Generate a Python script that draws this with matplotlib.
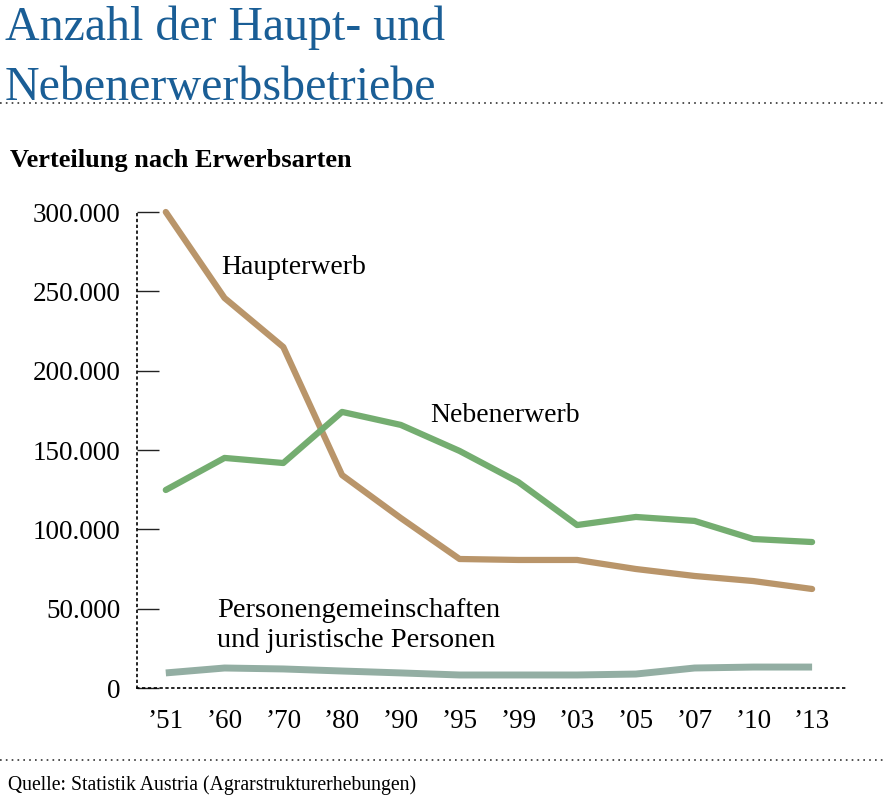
import matplotlib.pyplot as plt
from matplotlib.ticker import FuncFormatter
from matplotlib.lines import Line2D

# Data
years = ["’51", "’60", "’70", "’80", "’90", "’95", "’99", "’03", "’05", "’07", "’10", "’13"]
haupterwerb = [300000, 245800, 214900, 134200, 107100, 81300, 80700, 80700, 75000, 70600, 67400, 62400]
nebenerwerb = [124800, 145000, 141800, 174000, 165800, 149400, 129800, 102700, 107800, 105300, 93900, 92000]
personen = [9500, 12600, 12000, 10700, 9500, 8200, 8200, 8200, 8800, 12600, 13200, 13200]
y_ticks = [0, 50000, 100000, 150000, 200000, 250000, 300000]

plt.rcParams['font.family'] = ['Liberation Serif', 'DejaVu Serif']

fig = plt.figure(figsize=(8.83, 8.0), dpi=100)
ax = fig.add_axes([137/883, 1 - 688/800, (845 - 137)/883, (688 - 212)/800])

x = list(range(len(years)))
ax.plot(x, haupterwerb, color="#b9956a", lw=4.5, solid_capstyle='round', clip_on=False)
ax.plot(x, nebenerwerb, color="#74ad70", lw=4.5, solid_capstyle='round', clip_on=False)
ax.plot(x, personen, color="#93aea3", lw=5, solid_capstyle='butt', clip_on=False)

ax.set_xlim(-0.49, 11.56)
ax.set_ylim(0, 300000)

for s in ['top', 'right']:
    ax.spines[s].set_visible(False)
ax.spines['left'].set_linestyle((0, (1, 2.5)))
ax.spines['bottom'].set_linestyle((0, (1, 2.5)))
ax.spines['left'].set_linewidth(1.2)
ax.spines['bottom'].set_linewidth(1.2)

ax.set_yticks(y_ticks)
ax.yaxis.set_major_formatter(FuncFormatter(lambda v, p: "0" if v == 0 else "{:,.0f}".format(v).replace(",", ".")))
ax.tick_params(axis='y', direction='in', length=16, width=1, labelsize=19.5, pad=12, color="#222222")
ax.set_xticks(x)
ax.set_xticklabels(years)
ax.tick_params(axis='x', length=0, labelsize=19.5, pad=15)

# Series labels
ax.text(0.95, 265300, "Haupterwerb", fontsize=20, va='center')
ax.text(4.5, 172000, "Nebenerwerb", fontsize=20, va='center')
ax.text(0.87, 39500, "Personengemeinschaften\nund juristische Personen", fontsize=20.5,
        va='center', linespacing=1.28)

# Title, subtitle, source
title_color = "#1a5e96"
fig.text(5/883, 1 - 40/800, "Anzahl der Haupt- und", color=title_color,
         fontsize=34.5, va='baseline', ha='left')
fig.text(5/883, 1 - 100/800, "Nebenerwerbsbetriebe", color=title_color,
         fontsize=34.5, va='baseline', ha='left')
fig.text(10/883, 1 - 160/800, "Verteilung nach Erwerbsarten", fontsize=19, fontweight='bold', va='center')
fig.text(8/883, 1 - 785/800, "Quelle: Statistik Austria (Agrarstrukturerhebungen)", fontsize=14.2, va='center')

for yy in [103, 760]:
    fig.add_artist(Line2D([0, 1], [1 - yy/800, 1 - yy/800], transform=fig.transFigure,
                          color="#333333", lw=1.2, linestyle=(0, (1, 2.5))))

fig.savefig("out.png", dpi=100)
